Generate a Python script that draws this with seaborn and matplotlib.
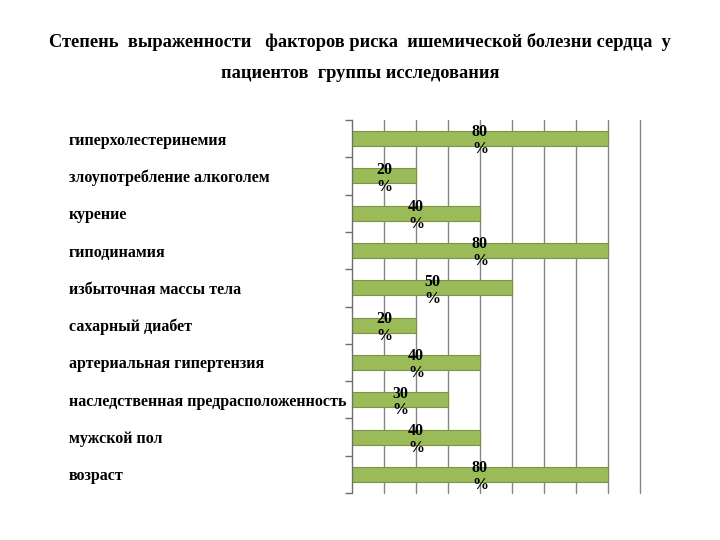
import matplotlib
matplotlib.use("Agg")
import matplotlib.pyplot as plt
import seaborn as sns
import numpy as np
import pandas as pd

categories = ["гиперхолестеринемия", "злоупотребление алкоголем", "курение",
              "гиподинамия", "избыточная массы тела", "сахарный диабет",
              "артериальная гипертензия", "наследственная предрасположенность",
              "мужской пол", "возраст"]
values = [80, 20, 40, 80, 50, 20, 40, 30, 40, 80]
title_lines = ["Степень  выраженности   факторов риска  ишемической болезни сердца  у",
               "пациентов  группы исследования"]

sns.set_theme(style="white")
plt.rcParams['font.family'] = ['Liberation Serif', 'DejaVu Serif']
plt.rcParams['text.color'] = 'black'
plt.rcParams['ytick.color'] = 'black'

df = pd.DataFrame({"cat": categories, "val": values})
fig = plt.figure(figsize=(7.2, 5.4), dpi=100)
ax = fig.add_axes([352/720, 1-493/540, (640-352)/720, (493-120)/540])
sns.barplot(data=df, y="cat", x="val", orient="h", ax=ax, color="#9BBB59",
            saturation=1, width=0.4, edgecolor="#7A9446", linewidth=0.8)
ax.set_xlim(0, 90)
ax.set_ylim(len(categories)-0.5, -0.5)
ax.set_xticks(np.arange(10, 91, 10))
ax.xaxis.grid(True, color="#858585", linewidth=1)
for gl in ax.get_xgridlines():
    gl.set_clip_on(False)
ax.set_axisbelow(True)
ax.set_xticklabels([])
ax.tick_params(axis="x", length=0)
for s in ["top", "right", "bottom"]:
    ax.spines[s].set_visible(False)
ax.spines["left"].set_color("#6e6e6e")
ax.spines["left"].set_linewidth(1)
ax.set_xlabel("")
ax.set_ylabel("")
ax.set_yticks(range(len(categories)))
ax.set_yticklabels(categories, fontsize=11.5, fontweight="bold", ha="left", color="black")
ax.tick_params(axis="y", which="major", length=0, pad=204, labelcolor="black")
ax.set_yticks(np.arange(-0.5, len(categories), 1), minor=True)
ax.tick_params(axis="y", which="minor", length=5, color="#6e6e6e", width=1, left=True)

for i, v in enumerate(values):
    ax.text(v/2, i + 0.06, f"{v}\n%", ha="center", va="center", fontsize=11.5,
            fontweight="bold", linespacing=1.08, color="black")

fig.text(0.5, 1-42/540, title_lines[0], ha="center", va="center", fontsize=13.2,
         fontweight="bold", color="black")
fig.text(0.5, 1-73/540, title_lines[1], ha="center", va="center", fontsize=13.2,
         fontweight="bold", color="black")
fig.savefig("out.png", dpi=100)
